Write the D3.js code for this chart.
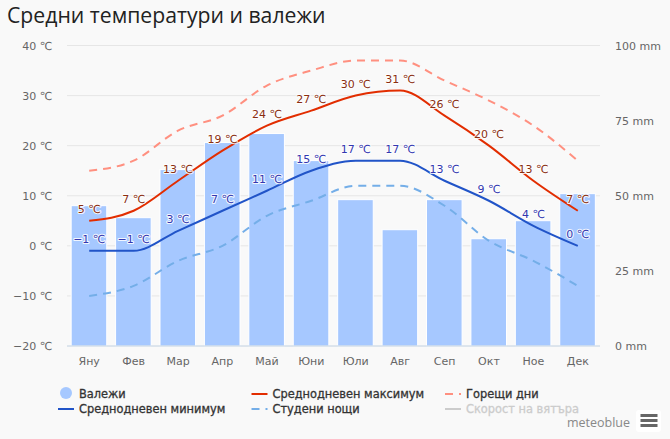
<!DOCTYPE html>
<html>
<head>
<meta charset="utf-8">
<script src="https://cdn.jsdelivr.net/npm/d3@7"></script>
<style>
  html, body { margin: 0; padding: 0; background: #f9f9f9; overflow: hidden; }
  svg { display: block; }
  text { font-family: "DejaVu Sans", Verdana, sans-serif; }
  .title { font-family: "Open Sans", sans-serif; font-size: 21.2px; fill: #222; }
  .tick-label { font-size: 11px; fill: #666; }
  .halo { paint-order: stroke; stroke: #fff; stroke-opacity: 0.85; stroke-width: 2.2px; stroke-linejoin: round; font-size: 11px; }
  .legend-label { font-size: 11.4px; fill: #333; stroke: #333; stroke-width: 0.3px; }
</style>
</head>
<body>
<div id="chart"></div>
<script>
"use strict";

// values
const months = ["Яну", "Фев", "Мар", "Апр", "Май", "Юни", "Юли", "Авг", "Сеп", "Окт", "Ное", "Дек"];
const precipitation = [46.7, 42.7, 58.7, 67.7, 70.7, 61.7, 48.7, 38.7, 48.7, 35.7, 41.7, 50.7];
const meanMax = [5, 7, 13, 19, 24, 27, 30, 31, 26, 20, 13, 7];
const meanMin = [-1, -1, 3, 7, 11, 15, 17, 17, 13, 9, 4, 0];
const hotDays = [15, 17, 23, 26, 32, 35, 37, 37, 33, 29, 24, 17];
const coldNights = [-10, -8, -3, 0, 6, 9, 12, 12, 8, 1, -3, -8];
const tempTicks = [40, 30, 20, 10, 0, -10, -20];
const rainTicks = [100, 75, 50, 25, 0];

const width = 670, height = 439;
const margin = { left: 67, top: 45.5, right: 70, bottom: 93 };
const plotW = width - margin.left - margin.right,
      plotH = height - margin.top - margin.bottom;

const svg = d3.select("#chart").append("svg")
  .attr("width", width)
  .attr("height", height);

svg.append("text").attr("class", "title")
  .attr("x", 7).attr("y", 23)
  .text("Средни температури и валежи");

const chart = svg.append("g")
  .attr("transform", "translate(" + margin.left + "," + margin.top + ")");

// scales
const x = d3.scaleBand().domain(months).range([0, plotW]).paddingInner(0.21).paddingOuter(0.105);
const yTemp = d3.scaleLinear().domain([-20, 40]).range([plotH, 0]);
const yRain = d3.scaleLinear().domain([0, 100]).range([plotH, 0]);
const cx = function(i) { return x(months[i]) + x.bandwidth() / 2; };

// grid lines
chart.append("g").selectAll("line")
  .data(tempTicks.filter(function(d) { return d > -20; }))
  .join("line")
    .attr("x1", 0).attr("x2", plotW)
    .attr("y1", function(d) { return yTemp(d); })
    .attr("y2", function(d) { return yTemp(d); })
    .attr("stroke", "#e6e6e6");

// bars
chart.append("g").selectAll("rect")
  .data(precipitation)
  .join("rect")
    .attr("x", function(d, i) { return x(months[i]) - 0.5; })
    .attr("width", x.bandwidth() + 0.5)
    .attr("y", function(d) { return yRain(d); })
    .attr("height", function(d) { return plotH - yRain(d); })
    .attr("fill", "#a6c8ff")
    .attr("stroke", "#fff")
    .attr("stroke-width", 1);

// x axis line
chart.append("line")
  .attr("x1", 0).attr("x2", plotW)
  .attr("y1", plotH).attr("y2", plotH)
  .attr("stroke", "#c0d0e0");

// axis labels
chart.append("g").selectAll("text")
  .data(tempTicks)
  .join("text")
    .attr("class", "tick-label")
    .attr("x", -15)
    .attr("y", function(d) { return yTemp(d) + 4; })
    .attr("text-anchor", "end")
    .text(function(d) { return (d < 0 ? "−" + (-d) : d) + " ℃"; });

chart.append("g").selectAll("text")
  .data(rainTicks)
  .join("text")
    .attr("class", "tick-label")
    .attr("x", plotW + 15)
    .attr("y", function(d) { return yRain(d) + 4; })
    .text(function(d) { return d + " mm"; });

chart.append("g").selectAll("text")
  .data(months)
  .join("text")
    .attr("class", "tick-label")
    .attr("x", function(d, i) { return cx(i); })
    .attr("y", plotH + 19)
    .attr("text-anchor", "middle")
    .text(function(d) { return d; });

// lines
const line = function(scale) {
  return d3.line()
    .x(function(d, i) { return cx(i); })
    .y(function(d) { return scale(d); })
    .curve(d3.curveMonotoneX);
};

const series = [
  { values: hotDays, color: "#ff9080", dash: "8,6" },
  { values: coldNights, color: "#74aee8", dash: "8,6" },
  { values: meanMax, color: "#e22d00", dash: null },
  { values: meanMin, color: "#2154c8", dash: null }
];

chart.append("g").selectAll("path")
  .data(series)
  .join("path")
    .attr("d", function(d) { return line(yTemp)(d.values); })
    .attr("fill", "none")
    .attr("stroke", function(d) { return d.color; })
    .attr("stroke-width", 2)
    .attr("stroke-dasharray", function(d) { return d.dash; });

// value labels
const addLabels = function(values, color) {
  chart.append("g").selectAll("text")
    .data(values)
    .join("text")
      .attr("class", "halo")
      .attr("x", function(d, i) { return cx(i); })
      .attr("y", function(d) { return yTemp(d) - 8; })
      .attr("text-anchor", "middle")
      .attr("fill", color)
      .text(function(d) { return (d < 0 ? "−" + (-d) : d) + " ℃"; });
};
addLabels(meanMax, "#8a2e10");
addLabels(meanMin, "#3338b0");

// legend
const legendItems = [
  { label: "Валежи", x: 79, y: 394, type: "dot", color: "#a6c8ff" },
  { label: "Среднодневен минимум", x: 79, y: 409, color: "#2154c8" },
  { label: "Среднодневен максимум", x: 272.5, y: 394, color: "#e22d00" },
  { label: "Студени нощи", x: 272.5, y: 409, color: "#74aee8", dash: "8,6" },
  { label: "Горещи дни", x: 466, y: 394, color: "#ff9080", dash: "8,6" },
  { label: "Скорост на вятъра", x: 466, y: 409, color: "#ccc", off: true }
];

const legend = svg.append("g").selectAll("g")
  .data(legendItems)
  .join("g")
    .attr("transform", function(d) { return "translate(" + d.x + "," + d.y + ")"; });

legend.filter(function(d) { return d.type === "dot"; }).append("circle")
  .attr("cx", -13).attr("cy", -1).attr("r", 6)
  .attr("fill", function(d) { return d.color; });

legend.filter(function(d) { return d.type !== "dot"; }).append("line")
  .attr("x1", -21).attr("x2", -5)
  .attr("stroke", function(d) { return d.color; })
  .attr("stroke-width", 2)
  .attr("stroke-dasharray", function(d) { return d.dash || null; });

legend.append("text")
  .attr("class", "legend-label")
  .attr("y", 4)
  .style("fill", function(d) { return d.off ? "#ccc" : null; })
  .style("stroke", function(d) { return d.off ? "#ccc" : null; })
  .text(function(d) { return d.label; });

// credit and menu button
svg.append("text")
  .attr("x", 630).attr("y", 427)
  .attr("text-anchor", "end")
  .style("font-family", "'Open Sans', sans-serif")
  .attr("font-size", 12.5)
  .attr("fill", "#888")
  .text("meteoblue");

svg.append("rect")
  .attr("x", 636).attr("y", 410).attr("width", 25).attr("height", 22).attr("rx", 3)
  .attr("fill", "#fff");

svg.append("g").selectAll("rect")
  .data([0, 1, 2])
  .join("rect")
    .attr("x", 640.5).attr("y", function(d) { return 414 + d * 5; })
    .attr("width", 17).attr("height", 3)
    .attr("fill", "#666");
</script>
</body>
</html>
